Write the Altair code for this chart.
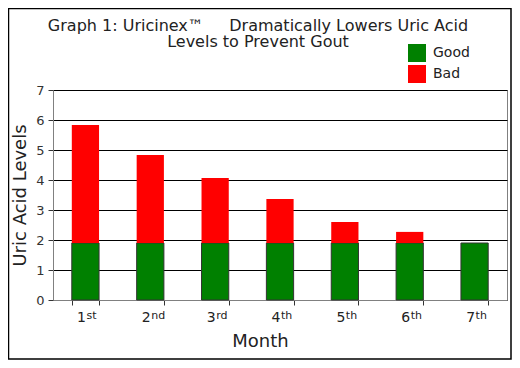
import altair as alt
import pandas as pd

months = ["1st", "2nd", "3rd", "4th", "5th", "6th", "7th"]
good = [1.9, 1.9, 1.9, 1.9, 1.9, 1.9, 1.9]
bad = [3.93, 2.93, 2.17, 1.47, 0.70, 0.37, 0.0]
series = ["Good", "Bad"]
colors = ["#008000", "#FF0000"]

rows = []
for m, g, b in zip(months, good, bad):
    rows.append({"Month": m, "Type": "Good", "Value": g, "ord": 0, "suf": m[1:]})
    rows.append({"Month": m, "Type": "Bad", "Value": b, "ord": 1, "suf": m[1:]})
df = pd.DataFrame(rows)

FONT = "DejaVu Sans"
NB = "\u00a0"

xenc = alt.X("Month:N", sort=months,
             scale=alt.Scale(paddingInner=0.58, paddingOuter=0.29),
             axis=alt.Axis(title="Month", labelAngle=0, tickBand="extent",
                           labelExpr="substring(datum.label, 0, 1)",
                           labelAlign="right",
                           domainColor="#808080", tickColor="#333333", tickSize=5,
                           labelFontSize=14, labelColor="#222222", labelPadding=5,
                           labelFont=FONT, titleFont=FONT, titleFontSize=18,
                           titleFontWeight="normal", titleColor="#222222",
                           titlePadding=8, titleX=207, grid=False))

bars = alt.Chart(df).mark_bar(stroke="#333333", strokeWidth=1).encode(
    x=xenc,
    y=alt.Y("Value:Q", stack="zero",
            scale=alt.Scale(domain=[0, 7]),
            axis=alt.Axis(title="Uric Acid Levels", values=[0, 1, 2, 3, 4, 5, 6, 7],
                          domainColor="#808080", tickColor="#333333", tickSize=5,
                          labelFontSize=13, labelColor="#333333", labelPadding=4,
                          labelFont=FONT, titleFont=FONT, titleFontSize=18,
                          titleFontWeight="normal", titleColor="#222222",
                          titlePadding=6, grid=True, gridColor="#000000",
                          gridWidth=1)),
    color=alt.Color("Type:N", scale=alt.Scale(domain=series, range=colors),
                    legend=alt.Legend(title=None, orient="none", legendX=355,
                                      legendY=-46, symbolType="square",
                                      symbolSize=324, symbolStrokeWidth=0,
                                      labelFontSize=14, labelFont=FONT,
                                      labelColor="#222222", labelOffset=7,
                                      rowPadding=3, padding=0)),
    order=alt.Order("ord:Q"),
    strokeOpacity=alt.condition(alt.datum.Type == "Good", alt.value(1), alt.value(0)),
)

suffix = alt.Chart(df).transform_filter(alt.datum.Type == "Good").mark_text(
    align="left", baseline="alphabetic", dx=1, fontSize=11, font=FONT, color="#222222"
).encode(
    x=alt.X("Month:N", sort=months),
    y=alt.value(229),
    text="suf:N",
)

border = alt.Chart(pd.DataFrame({"a": [0]})).mark_rect(
    fill=None, stroke="black", strokeWidth=1.5
).encode(
    x=alt.value(-44.5), x2=alt.value(458), y=alt.value(-81.5), y2=alt.value(269)
)

chart = alt.layer(bars, suffix, border).properties(
    width=454, height=210,
    title=alt.TitleParams(
        text=["Graph 1: Uricinex™" + NB * 5 + "Dramatically Lowers Uric Acid",
              "Levels to Prevent Gout"],
        font=FONT, fontSize=16, fontWeight="normal", color="#222222",
        anchor="middle", dx=-22, offset=-42, lineHeight=16),
    autosize=alt.AutoSizeParams(type="none"),
    padding={"left": 45, "top": 82, "right": 5, "bottom": 60},
).configure_view(stroke="#808080", strokeWidth=1)

chart.save("out.html", embed_options={"renderer": "svg", "actions": False})
